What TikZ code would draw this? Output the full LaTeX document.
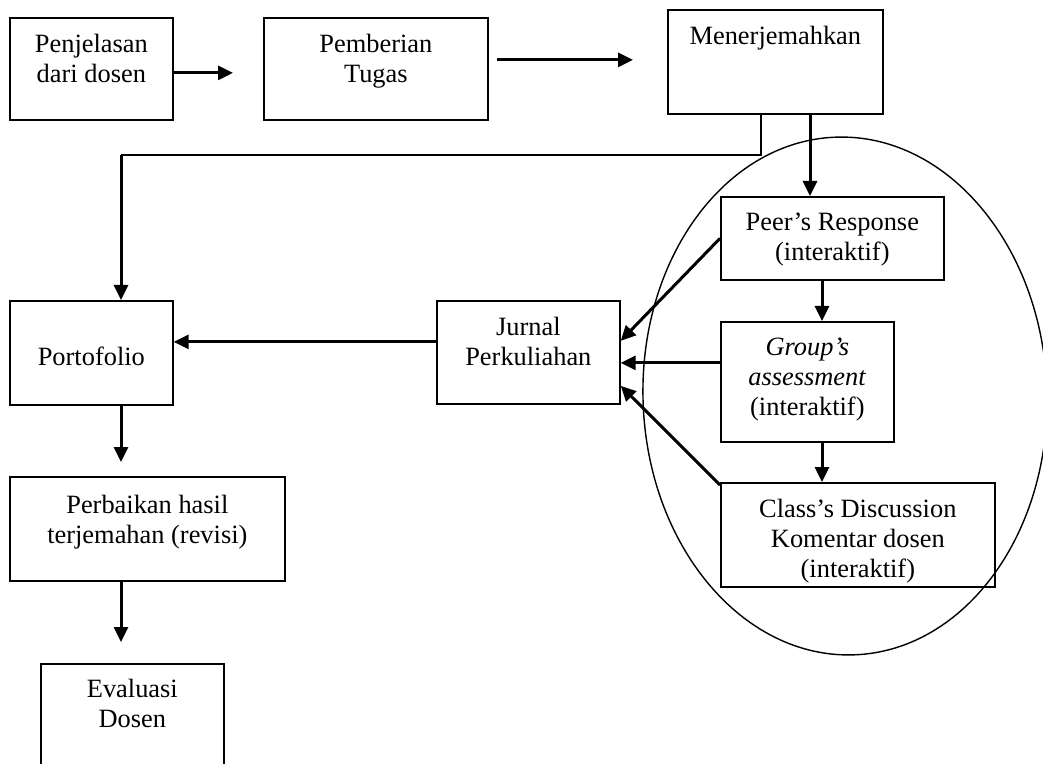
\documentclass[tikz,border=0pt]{standalone}
\usepackage{fontspec}
\setmainfont{Liberation Serif}
\usetikzlibrary{positioning,shapes.geometric,arrows.meta,calc}
\newdimen\px \px=0.5pt
% text of a box, set from its top: [top pad]{width}{height}{text}
\newcommand{\btxt}[4][16]{\parbox[c][#3\px][t]{#2\px}{\centering\vspace*{#1\px}#4}}

\begin{document}
\begin{tikzpicture}[x=0.5pt, y=-0.5pt,
  box_/.style={rectangle, draw, line width=0.85pt, inner sep=0pt, anchor=north west,
    font=\fontsize{13.2}{15}\selectfont},
  arr/.style={-{Triangle[length=7.5pt,width=7pt]}, line width=1.5pt},
  ln/.style={line width=0.7pt}
]
\useasboundingbox (0,0) rectangle (1043,764);

\node[box_] (pjd) at (9,17) {\btxt{163}{102}{Penjelasan\\dari dosen}};
\node[box_] (tugas) at (263,17) {\btxt{224}{102}{Pemberian\\Tugas}};
\node[box_] (trans) at (667,9) {\btxt{215}{104}{Menerjemahkan}};
\node[box_] (peer) at (720,196) {\btxt{223}{83}{Peer’s Response\\(interaktif)}};
\node[box_] (group) at (720,321) {\btxt{173}{120}{\textit{Group’s}\\\textit{assessment}\\(interaktif)}};
\node[box_] (klas) at (720,482) {\btxt{274}{104}{Class’s Discussion\\Komentar dosen\\(interaktif)}};
\node[box_] (jurnal) at (436,300) {\btxt{183}{103}{Jurnal\\Perkuliahan}};
\node[box_] (porto) at (9,300) {\btxt[46]{163}{104}{Portofolio}};
\node[box_] (revisi) at (9,476) {\btxt[18]{275}{104}{Perbaikan hasil\\terjemahan (revisi)}};
\node[box_] (eval) at (40,663) {\btxt[15]{183}{130}{Evaluasi\\Dosen}};

% interactive part
\node[ellipse, draw, ln, inner sep=0pt, minimum width=202pt, minimum height=259pt,
  rotate=2] (lingkar) at (845,396) {};

\coordinate (col) at (121,155);
\coordinate (tright) at ([yshift=4.5pt]tugas.east);
\coordinate (tdown) at ([xshift=71.5pt]trans.south west);
\coordinate (pdown) at ([xshift=51pt]peer.south west);
\coordinate (gdown) at ([xshift=51pt]group.south west);
\coordinate (gleft) at ([yshift=9.5pt]group.west);
\coordinate (jleft) at ([yshift=5.25pt]jurnal.west);

\draw[arr, shorten >=15pt] ([yshift=-2pt]pjd.east) -- ([yshift=-2pt]tugas.west);
\draw[arr, shorten <=4pt, shorten >=17pt] (tright) -- (tright -| trans.west);
\draw[ln] ([xshift=47pt]trans.south west) |- (col);
\draw[arr] (col) -- (col |- porto.north);
\draw[arr] (tdown) -- (tdown |- peer.north);
\draw[arr] (pdown) -- (pdown |- group.north);
\draw[arr] (gdown) -- (gdown |- klas.north);
\draw[arr] (peer.west) -- ([yshift=5.75pt]jurnal.east);
\draw[arr] (gleft) -- (gleft -| jurnal.east);
\draw[arr] ([yshift=-1.5pt]klas.north west) -- ([yshift=-16.75pt]jurnal.east);
\draw[arr] (jleft) -- (jleft -| porto.east);
\draw[arr, shorten >=7pt] (col |- porto.south) -- (col |- revisi.north);
\draw[arr, shorten >=10.5pt] (col |- revisi.south) -- (col |- eval.north);
\end{tikzpicture}
\end{document}
